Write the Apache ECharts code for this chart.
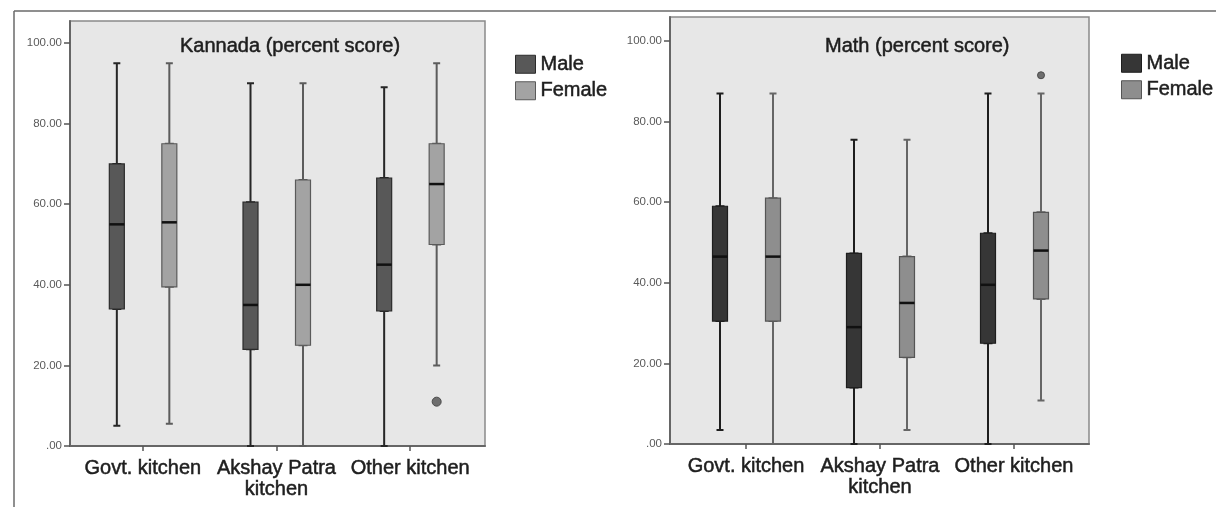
<!DOCTYPE html>
<html>
<head>
<meta charset="utf-8">
<script src="https://cdn.jsdelivr.net/npm/echarts@6/dist/echarts.min.js"></script>
<style>
html,body{margin:0;padding:0;background:#fff;}
#c{width:1216px;height:507px;}
</style>
</head>
<body>
<div id="c"></div>
<script>
// ---- data ----
const categories = ['Govt. kitchen', 'Akshay Patra\nkitchen', 'Other kitchen'];
const yTicks = [0, 20, 40, 60, 80, 100];
// [min, Q1, median, Q3, max]
const kannadaMale   = [[5, 34, 55, 70, 95], [0, 24, 35, 60.5, 90], [0, 33.5, 45, 66.5, 89]];
const kannadaFemale = [[5.5, 39.5, 55.5, 75, 95], [0, 25, 40, 66, 90], [20, 50, 65, 75, 95]];
const kannadaOutliers = [[2, 11]];            // Female, Other kitchen
const mathMale   = [[3.5, 30.5, 46.5, 59, 87], [0, 14, 29, 47.3, 75.5], [0, 25, 39.5, 52.3, 87]];
const mathFemale = [[0, 30.5, 46.5, 61, 87], [3.5, 21.5, 35, 46.5, 75.5], [10.8, 36, 48, 57.5, 87]];
const mathOutliers = [[2, 91.5]];             // Female, Other kitchen

const FONT = 'Liberation Sans, Arial, sans-serif';
const BIG = { fontSize: 20, color: '#1e1e1e', fontFamily: FONT, textBorderColor: '#1e1e1e', textBorderWidth: 0.5 };

const option = {
  animation: false,
  textStyle: { fontFamily: FONT },
  grid: [], xAxis: [], yAxis: [], series: [], title: [], legend: [],
  graphic: [
    { type: 'line', silent: true, shape: { x1: 14, y1: 11, x2: 1216, y2: 11 }, style: { stroke: '#6a6a6a', lineWidth: 1.5 } },
    { type: 'line', silent: true, shape: { x1: 14, y1: 11, x2: 14, y2: 507 }, style: { stroke: '#6a6a6a', lineWidth: 1.5 } }
  ]
};

function addChart(cfg) {
  const g0 = option.grid.length;
  // frame grid
  option.grid.push({ left: cfg.frame[0], top: cfg.frame[1], width: cfg.frame[2], height: cfg.frame[3],
    show: true, backgroundColor: '#e7e7e7', borderColor: '#8a8a8a', borderWidth: 1.5 });
  option.xAxis.push({ gridIndex: g0, type: 'category', data: categories, boundaryGap: true,
    axisLine: { show: true, lineStyle: { color: '#666', width: 2 } }, axisTick: { show: false }, axisLabel: { show: false } });
  option.yAxis.push({ gridIndex: g0, type: 'value', min: 0, max: 1,
    axisLine: { show: true, lineStyle: { color: '#666', width: 2 } }, axisTick: { show: false }, axisLabel: { show: false }, splitLine: { show: false } });
  // category/scale grid
  const g1 = g0 + 1;
  option.grid.push({ left: cfg.cat[0], top: cfg.cat[1], width: cfg.cat[2], height: cfg.cat[3] });
  option.xAxis.push({ gridIndex: g1, type: 'category', data: categories,
    axisLine: { show: false },
    axisTick: { show: true, alignWithLabel: true, length: 5, lineStyle: { color: '#555', width: 1.5 } },
    axisLabel: Object.assign({ interval: 0, margin: 12, lineHeight: 21 }, BIG) });
  option.yAxis.push({ gridIndex: g1, type: 'value', min: yTicks[0], max: yTicks[yTicks.length - 1], interval: 20,
    offset: cfg.yOffset,
    axisLine: { show: true, lineStyle: { color: '#666', width: 2 } },
    axisTick: { show: true, length: 6, lineStyle: { color: '#555', width: 1.5 } },
    axisLabel: { fontSize: 11.5, color: '#5a5a5a', margin: 8, fontFamily: FONT,
      formatter: v => v === 0 ? '.00' : v.toFixed(2) },
    splitLine: { show: false } });

  // data grids: male-whisker, male-box, female-whisker, female-box
  const groups = [
    { name: 'Male', data: cfg.male, shift: cfg.maleShift, fill: cfg.maleFill, border: cfg.maleBorder, whisker: cfg.maleWhisker },
    { name: 'Female', data: cfg.female, shift: cfg.femaleShift, fill: cfg.femaleFill, border: cfg.femaleBorder, whisker: cfg.femaleWhisker }
  ];
  groups.forEach(gr => {
    // whisker grid
    const gw = option.grid.length;
    option.grid.push({ left: cfg.cat[0] + gr.shift, top: cfg.cat[1], width: cfg.cat[2], height: cfg.cat[3] });
    option.xAxis.push({ gridIndex: gw, type: 'category', data: categories, show: false });
    option.yAxis.push({ gridIndex: gw, type: 'value', min: 0, max: 100, show: false });
    option.series.push({ type: 'boxplot', name: gr.name + ' whisker', xAxisIndex: gw, yAxisIndex: gw, silent: true, z: 1,
      boxWidth: [7, 7],
      itemStyle: { color: gr.whisker, borderColor: gr.whisker, borderWidth: 2 },
      data: gr.data.map(d => [d[0], d[1], d[1], d[3], d[4]]) });
    // box grid
    const gb = option.grid.length;
    option.grid.push({ left: cfg.cat[0] + gr.shift, top: cfg.cat[1], width: cfg.cat[2], height: cfg.cat[3] });
    option.xAxis.push({ gridIndex: gb, type: 'category', data: categories, show: false });
    option.yAxis.push({ gridIndex: gb, type: 'value', min: 0, max: 100, show: false });
    option.series.push({ type: 'boxplot', name: gr.name, xAxisIndex: gb, yAxisIndex: gb, silent: true, z: 2,
      boxWidth: [15, 15],
      itemStyle: { color: gr.fill, borderColor: gr.border, borderWidth: 1.2 },
      data: gr.data.map(d => [d[1], d[1], d[2], d[3], d[3]]) });
    option.series.push({ type: 'scatter', name: gr.name + ' median', xAxisIndex: gb, yAxisIndex: gb, silent: true, z: 3,
      symbol: 'rect', symbolSize: [15, 2.5], itemStyle: { color: '#111', opacity: 1 },
      data: gr.data.map((d, i) => [i, d[2]]) });
    if (gr.name === 'Female') {
      option.series.push({ type: 'scatter', name: 'Outlier', xAxisIndex: gb, yAxisIndex: gb, silent: true, z: 3,
        symbol: 'circle', symbolSize: cfg.outlierSize,
        itemStyle: { color: '#6e6e6e', borderColor: '#4a4a4a', borderWidth: 1, opacity: 1 },
        data: cfg.outliers });
    }
  });

  option.title.push({ text: cfg.title, left: cfg.titlePos[0], top: cfg.titlePos[1], padding: 0,
    textStyle: Object.assign({ fontWeight: 'normal' }, BIG) });
  option.legend.push({ orient: 'vertical', left: cfg.legendPos[0], top: cfg.legendPos[1], icon: 'rect', padding: 0,
    itemWidth: 20, itemHeight: 18, itemGap: 6, selectedMode: false,
    textStyle: BIG,
    data: [
      { name: 'Male', itemStyle: { color: cfg.maleFill, borderColor: cfg.maleBorder, borderWidth: 1 } },
      { name: 'Female', itemStyle: { color: cfg.femaleFill, borderColor: cfg.femaleBorder, borderWidth: 1 } }
    ] });
}

addChart({
  title: 'Kannada (percent score)', titlePos: [180, 36], legendPos: [515, 54],
  frame: [70, 21, 415, 425], cat: [76, 43, 401, 403], yOffset: 6,
  male: kannadaMale, female: kannadaFemale, outliers: kannadaOutliers, outlierSize: 9,
  maleShift: -26, femaleShift: 26.5,
  maleFill: '#585858', maleBorder: '#2b2b2b', maleWhisker: '#262626',
  femaleFill: '#a3a3a3', femaleBorder: '#5a5a5a', femaleWhisker: '#5c5c5c'
});
addChart({
  title: 'Math (percent score)', titlePos: [825, 36], legendPos: [1121, 53],
  frame: [670, 17, 419, 427], cat: [679, 41, 402, 403], yOffset: 9,
  male: mathMale, female: mathFemale, outliers: mathOutliers, outlierSize: 7,
  maleShift: -26, femaleShift: 27,
  maleFill: '#363636', maleBorder: '#1e1e1e', maleWhisker: '#1e1e1e',
  femaleFill: '#8e8e8e', femaleBorder: '#555555', femaleWhisker: '#666666'
});

const chart = echarts.init(document.getElementById('c'), null, { renderer: 'canvas' });
chart.setOption(option);
</script>
</body>
</html>
